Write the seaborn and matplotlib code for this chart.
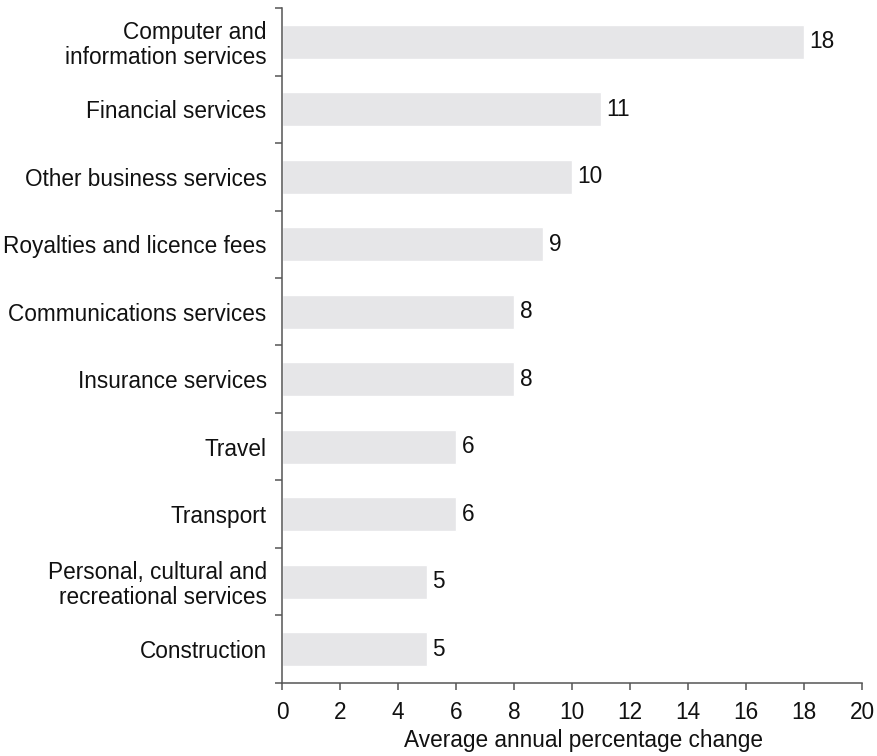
import pandas as pd
import numpy as np
import matplotlib.pyplot as plt
import seaborn as sns
from matplotlib.ticker import FixedLocator

# data
categories = ["Computer and\ninformation services", "Financial services",
              "Other business services", "Royalties and licence fees",
              "Communications services", "Insurance services", "Travel",
              "Transport", "Personal, cultural and\nrecreational services",
              "Construction"]
values = [18, 11, 10, 9, 8, 8, 6, 6, 5, 5]

df = pd.DataFrame({"category": categories, "change": values})

sns.set_theme(style="ticks")
plt.rcParams["font.family"] = ["Liberation Sans", "DejaVu Sans"]

fig = plt.figure(figsize=(8.77, 7.56), dpi=100)
ax = fig.add_axes([0.3215, 0.0966, 0.6614, 0.8928])

sns.barplot(data=df, x="change", y="category", orient="h", color="#e6e6e8",
            width=0.5, saturation=1, ax=ax)

for c in ax.containers:
    ax.bar_label(c, padding=4, fontsize=16.3, color="#111111")

ax.set_xlim(0, 20)
ax.set_xticks(np.arange(0, 21, 2))
ax.set_ylim(len(categories) - 0.5, -0.5)
ax.yaxis.set_minor_locator(FixedLocator(np.arange(-0.5, len(categories), 1)))

ax.tick_params(axis="y", which="major", length=0, pad=11, labelsize=16.3, labelcolor="#111111")
ax.tick_params(axis="y", which="minor", length=5, width=1.1, color="#555555", direction="out")
ax.tick_params(axis="x", length=5, width=1.1, color="#555555", pad=8, labelsize=16.3, labelcolor="#111111")
for lab in ax.get_yticklabels():
    lab.set_linespacing(1.1)

sns.despine(ax=ax)
for s in ["left", "bottom"]:
    ax.spines[s].set_color("#555555")
    ax.spines[s].set_linewidth(1.1)

ax.set_ylabel("")
ax.set_xlabel("Average annual percentage change", fontsize=16.3, color="#111111")
ax.xaxis.set_label_coords(0.52, -0.068)

fig.savefig("out.png", dpi=100)
